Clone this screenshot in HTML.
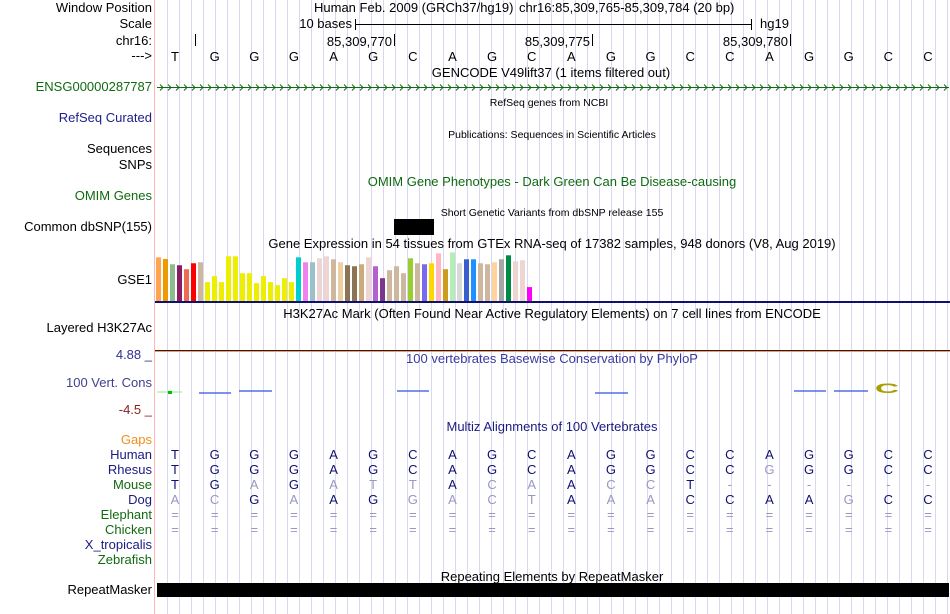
<!DOCTYPE html>
<html><head><meta charset="utf-8"><style>
html,body{margin:0;padding:0;background:#fff;}
svg{display:block;font-family:"Liberation Sans",sans-serif;font-size:13px;}
</style></head><body>
<svg id="c" width="950" height="614" xmlns="http://www.w3.org/2000/svg"></svg>
<script>
const bases=["T","G","G","G","A","G","C","A","G","C","A","G","G","C","C","A","G","G","C","C"];
const human="TGGGAGCAGCAGGCCAGGCC";
const rhesus="TGGGAGCAGCAGGCCGGGCC";
const rhesusLight="00000000000000010000";
const mouse="TGAGATTACAACCT------";
const mouseLight="00101110110110111111";
const dog="ACGAAGGACTAAACCAAGCC";
const dogLight="11010011110110000100";
const gtexValues=[132,127,111,108,96,114,117,57,75,57,135,135,84,84,54,75,57,48,69,57,132,117,117,129,135,126,117,108,105,111,132,105,69,93,105,84,129,114,111,114,144,96,147,114,126,126,114,111,117,126,138,120,123,42];
const gtexColors=["#FFA54F","#EE9A00","#8FBC8F","#8B1C62","#EE6A50","#FF0000","#CDB79E","#EEEE00","#EEEE00","#EEEE00","#EEEE00","#EEEE00","#EEEE00","#EEEE00","#EEEE00","#EEEE00","#EEEE00","#EEEE00","#EEEE00","#EEEE00","#00CED1","#EE82EE","#9AC0CD","#EED5D2","#EED5D2","#CDB79E","#EECFA1","#8B7355","#8B7355","#CDAA7D","#EED5D2","#B460CD","#7A378B","#CDB79E","#CDB79E","#CDB79E","#9ACD32","#CDB79E","#7B68EE","#FFD700","#FFB6C1","#CD9B1D","#B4EEB4","#D9D9D9","#3A5FCD","#1E90FF","#CDB79E","#CDB79E","#FFD39B","#A6A6A6","#008B45","#EED5D2","#EED5D2","#FF00FF"];
const gtexMax=148;

const NS="http://www.w3.org/2000/svg";
const svg=document.getElementById('c');
function mk(tag,attrs,txt){const e=document.createElementNS(NS,tag);for(const k in attrs)e.setAttribute(k,attrs[k]);if(txt!==undefined)e.textContent=txt;svg.appendChild(e);return e;}
const bw=753/19;
function bx(i){return 175+bw*i;}

for(let x=167;x<950;x+=12){const l=mk('line',{x1:x+.5,x2:x+.5,y1:0,y2:614,stroke:'#D8D8F4','stroke-width':1});
}
const sep=mk('line',{x1:154.5,x2:154.5,y1:0,y2:614,stroke:'#FFB4B4','stroke-width':1});


function lab(x,y,t,col,anchor,name){const e=mk('text',{x:x,y:y,fill:col||'#000','text-anchor':anchor||'end'},t);
return e;}

lab(152,12,"Window Position","#000","end","window-position-label");
lab(152,28,"Scale","#000","end","scale-label");
lab(152,45,"chr16:","#000","end","chr-label");
lab(152,60,"--->","#000","end","strand-label");
lab(152,91,"ENSG00000287787","#106A10","end","gencode-gene-label");
lab(152,122,"RefSeq Curated","#20208C","end","refseq-label");
lab(152,153,"Sequences","#000","end","sequences-label");
lab(152,169,"SNPs","#000","end","snps-label");
lab(152,200,"OMIM Genes","#106A10","end","omim-label");
lab(152,231,"Common dbSNP(155)","#000","end","dbsnp-label");
lab(152,284,"GSE1","#000","end","gtex-label");
lab(152,332,"Layered H3K27Ac","#000","end","h3k27ac-label");
lab(152,359,"4.88 _","#303090","end","phylop-max-label");
lab(152,387,"100 Vert. Cons","#404090","end","phylop-label");
lab(152,414,"-4.5 _","#8B2020","end","phylop-min-label");
lab(152,444,"Gaps","#F0901A","end","gaps-label");
const species=[["Human","#1A1A80"],["Rhesus","#1A1A80"],["Mouse","#106A10"],["Dog","#1A1A80"],["Elephant","#106A10"],["Chicken","#106A10"],["X_tropicalis","#1A1A80"],["Zebrafish","#106A10"]];
species.forEach((s,i)=>lab(152,459+15*i,s[0],s[1],"end","species-label-"+s[0].toLowerCase()));
lab(152,594,"RepeatMasker","#000","end","repeatmasker-label");

lab(314,12,"Human Feb. 2009 (GRCh37/hg19)","#000","start","assembly-title");
lab(519,12,"chr16:85,309,765-85,309,784 (20 bp)","#000","start","position-title");
lab(352,28,"10 bases","#000","end","scale-text");
mk('line',{x1:355.5,x2:751.5,y1:24.5,y2:24.5,stroke:'#000'});
mk('line',{x1:355.5,x2:355.5,y1:19,y2:30,stroke:'#000'});
mk('line',{x1:751.5,x2:751.5,y1:19,y2:30,stroke:'#000'});
lab(760,28,"hg19","#000","start","assembly-label");
[[195,""],[394,"85,309,770"],[592,"85,309,775"],[790,"85,309,780"]].forEach(t=>{
 mk('line',{x1:t[0]+.5,x2:t[0]+.5,y1:34,y2:46,stroke:'#000'});
 if(t[1])lab(t[0]-2,46,t[1],"#000","end","ruler-tick-label");
});
bases.forEach((b,i)=>lab(bx(i),61,b,"#000","middle","ref-base"));
lab(551,77,"GENCODE V49lift37 (1 items filtered out)","#000","middle","gencode-title");
mk('line',{x1:157,x2:949,y1:87.5,y2:87.5,stroke:'#106A10'});
let d="";for(let x=160;x<949;x+=8){d+=`M${x} 84.5 L${x+3} 87.5 L${x} 90.5 `;}
const ar=mk('path',{d:d,stroke:'#106A10',fill:'none'});
const ts=(x,y,t,col,name)=>{const e=lab(x,y,t,col,"middle",name);e.setAttribute('font-size','10.5');return e;};
ts(549,106,"RefSeq genes from NCBI","#000","refseq-title");
ts(552,138,"Publications: Sequences in Scientific Articles","#000","publications-title");
lab(552,186,"OMIM Gene Phenotypes - Dark Green Can Be Disease-causing","#106A10","middle","omim-title");
ts(552,216,"Short Genetic Variants from dbSNP release 155","#000","dbsnp-title");
const snp=mk('rect',{x:394,y:219,width:40,height:16,fill:'#000'});
lab(552,248,"Gene Expression in 54 tissues from GTEx RNA-seq of 17382 samples, 948 donors (V8, Aug 2019)","#000","middle","gtex-title");
const gBase=301,gH=49;
gtexValues.forEach((v,i)=>{const h=v/gtexMax*gH;
 const r=mk('rect',{x:156+7*i,y:gBase-h,width:5,height:h,fill:gtexColors[i]});
 });
mk('rect',{x:155,y:301,width:795,height:2,fill:'#101070'});
lab(552,318,"H3K27Ac Mark (Often Found Near Active Regulatory Elements) on 7 cell lines from ENCODE","#000","middle","h3k27ac-title");
mk('rect',{x:155,y:350,width:795,height:1,fill:'#3A1A10'});
mk('rect',{x:155,y:351,width:795,height:1,fill:'#E0A070'});
lab(552,363,"100 vertebrates Basewise Conservation by PhyloP","#3A3AA0","middle","phylop-title");
[[157,182,'#A0F0A0',0],[199,231,'#3050E0',1],[239,272,'#3050E0',-1],[397,429,'#3050E0',-1],[595,628,'#3050E0',1],[794,826,'#3050E0',-1],[834,868,'#3050E0',-1]].forEach(m=>{
 const e=mk('line',{x1:m[0],x2:m[1],y1:392+m[3],y2:392+m[3],stroke:m[2],'stroke-width':1.2});
 });
mk('rect',{x:168,y:391,width:4,height:3,fill:'#00C000'});
const cl=mk('text',{x:0,y:0,fill:'#A8A000','text-anchor':'middle','font-size':'16','font-weight':'bold',transform:'translate(887,393) scale(2.1,0.85)'},"C");

lab(552,431,"Multiz Alignments of 100 Vertebrates","#1A1A80","middle","multiz-title");
function row(seq,light,y,name){for(let i=0;i<20;i++){const l=light&&light[i]==="1";
 lab(bx(i),y,seq[i],l?'#9898C0':'#101070',"middle",name);}}
row(human,null,459,"human-base");
row(rhesus,rhesusLight,474,"rhesus-base");
row(mouse,mouseLight,489,"mouse-base");
row(dog,dogLight,504,"dog-base");
row("====================","11111111111111111111",519,"elephant-base");
row("====================","11111111111111111111",534,"chicken-base");
lab(552,581,"Repeating Elements by RepeatMasker","#000","middle","repeatmasker-title");
const rm=mk('rect',{x:157,y:583,width:792,height:14,fill:'#000'});
</script>
</body></html>
